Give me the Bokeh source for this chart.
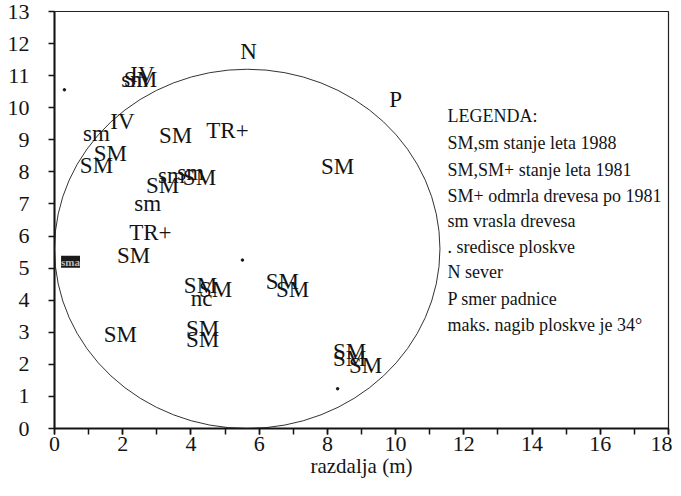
from bokeh.plotting import figure
from bokeh.models import Range1d, SingleIntervalTicker, ColumnDataSource
from bokeh.core.properties import value
from bokeh.embed import file_html
from bokeh.resources import INLINE

# tree labels on the plot (text, x in m, y in m)
tree_text = ["N", "P", "IV", "SM", "sm", "sm", "IV", "SM", "SM", "SM", "TR+",
             "sm", "sm", "SM", "SM", "sm", "TR+", "SM", "SM", "SM", "nc",
             "SM", "SM", "SM", "SM", "SM", "SM", "SM", "SM", "SM"]
tree_x = [5.69, 10.00, 2.58, 2.52, 2.35, 1.23, 1.99, 1.64, 1.23, 3.55, 5.07,
          3.43, 3.99, 4.25, 3.17, 2.73, 2.81, 2.32, 4.28, 4.72, 4.31,
          4.34, 4.34, 1.93, 6.68, 6.98, 8.65, 8.65, 9.12, 8.30]
tree_y = [11.76, 10.25, 11.05, 10.87, 10.87, 9.20, 9.57, 8.58, 8.21, 9.14, 9.29,
          7.90, 7.97, 7.81, 7.57, 7.01, 6.11, 5.40, 4.45, 4.32, 4.05,
          3.12, 2.78, 2.93, 4.57, 4.32, 2.41, 2.19, 1.95, 8.18]

# crowded label at the left edge
small_text = ["sma"]
small_x = [0.47]
small_y = [5.20]

# plot centre and stray points
dot_x = [5.51, 0.29, 8.30]
dot_y = [5.25, 10.56, 1.24]

# plot circle (centre and diameters, m)
circle_x = [5.65]
circle_y = [5.60]
circle_w = [11.3]
circle_h = [11.2]

# legend
legend_text = ["LEGENDA:", "SM,sm  stanje leta 1988", "SM,SM+ stanje leta 1981",
               "SM+ odmrla drevesa po 1981", "sm vrasla drevesa",
               ". sredisce ploskve", "N sever", "P smer padnice",
               "maks. nagib ploskve je 34\u00b0"]
legend_x = [11.52] * 9
legend_y = [9.73, 8.89, 8.06, 7.26, 6.48, 5.65, 4.88, 4.05, 3.24]

FONT = "Liberation Serif"
INK = "#141414"

p = figure(width=672, height=480, x_range=Range1d(0, 18), y_range=Range1d(0, 13),
           output_backend="svg", toolbar_location=None,
           min_border_left=54, min_border_right=4, min_border_top=11, min_border_bottom=52)
p.background_fill_color = "white"
p.border_fill_color = "white"
p.outline_line_color = "#222222"
p.outline_line_width = 1.2
p.xgrid.grid_line_color = None
p.ygrid.grid_line_color = None

p.xaxis.ticker = SingleIntervalTicker(interval=2, num_minor_ticks=2)
p.yaxis.ticker = SingleIntervalTicker(interval=1, num_minor_ticks=0)
for ax in (p.xaxis[0], p.yaxis[0]):
    ax.axis_line_color = INK
    ax.axis_line_width = 2
    ax.major_tick_line_color = INK
    ax.major_tick_line_width = 1.5
    ax.major_tick_in = 0
    ax.major_tick_out = 6
    ax.minor_tick_line_color = INK
    ax.minor_tick_line_width = 1.5
    ax.minor_tick_in = 0
    ax.minor_tick_out = 6
    ax.major_label_text_font = FONT
    ax.major_label_text_font_size = "22px"
    ax.major_label_text_color = INK
p.yaxis.minor_tick_out = 0
p.yaxis.major_label_standoff = 19
p.xaxis.major_label_standoff = 2
p.xaxis.axis_label = "razdalja (m)"
p.xaxis.axis_label_text_font = FONT
p.xaxis.axis_label_text_font_size = "21px"
p.xaxis.axis_label_text_font_style = "normal"
p.xaxis.axis_label_text_color = INK
p.xaxis.axis_label_standoff = 0

p.ellipse(x=circle_x, y=circle_y, width=circle_w, height=circle_h,
          fill_color=None, line_color="#333333", line_width=1)

src = ColumnDataSource(dict(x=tree_x, y=tree_y, t=tree_text))
p.text(x="x", y="y", text="t", source=src, text_font=value(FONT),
       text_font_size="23px", text_align="center", text_baseline="middle",
       text_color=INK)

p.text(x=small_x, y=small_y, text=small_text, text_font=value(FONT),
       text_font_size="11px", text_font_style="bold", text_align="center",
       text_baseline="middle", text_color="#bbbbbb",
       background_fill_color="#1a1a1a")

p.scatter(x=dot_x, y=dot_y, size=2.5, color=INK)

p.text(x=legend_x, y=legend_y, text=legend_text, text_font=value(FONT),
       text_font_size="18px", text_align="left", text_baseline="middle",
       text_color=INK)

open("out.html", "w").write(file_html(p, INLINE))
